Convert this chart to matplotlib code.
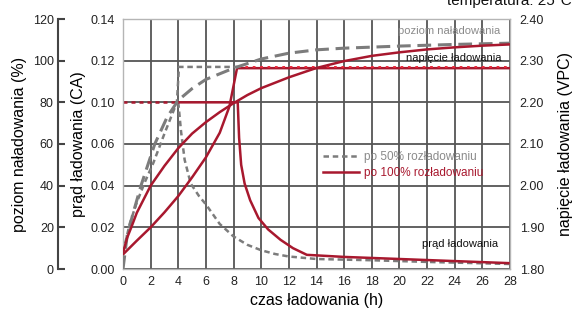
import numpy as np
import matplotlib
matplotlib.use("Agg")
import matplotlib.pyplot as plt

plt.rcParams['font.family'] = ['Liberation Sans', 'DejaVu Sans']

# ── data ────────────────────────────────────────────────────────────────
HOURS_TICKS = list(range(0, 29, 2))

# current axis is labelled with 0.08 missing (as in the original chart)
CURRENT_TICKS = [0.00, 0.02, 0.04, 0.06, 0.10, 0.12, 0.14]
VOLT_TICKS    = [1.80, 1.90, 2.00, 2.10, 2.20, 2.30, 2.40]
LEVEL_TICKS   = [0, 20, 40, 60, 80, 100, 120]

# po 100% rozładowaniu
cur100_h   = [4.0, 8.3, 8.4, 8.55, 8.8, 9.2, 9.8, 10.5, 11.4, 12.3, 13.3, 16, 20, 24, 28]
cur100_ca  = [0.10, 0.10, 0.066, 0.050, 0.041, 0.033, 0.0245, 0.019, 0.014, 0.010,
              0.0068, 0.0058, 0.0048, 0.0038, 0.0028]
volt100_h  = [0, 1, 2, 3, 4, 5, 6, 7, 7.7, 8.25, 28]
volt100_v  = [1.835, 1.868, 1.900, 1.936, 1.975, 2.020, 2.068, 2.127, 2.190, 2.282, 2.282]
level100_h = [0, 0.3, 0.6, 1, 2, 3, 4, 5, 6, 7, 8, 9, 10, 12, 14, 16, 18, 20, 22, 24, 26, 28]
level100_p = [7.6, 15, 20, 27.0, 40, 49.5, 58, 65, 70.5, 75.3, 79.6, 83.5, 86.8, 92, 96.5,
              99.8, 102.3, 104, 105.4, 106.4, 107.2, 107.8]

# po 50% rozładowaniu
cur50_h    = [0, 4.0, 4.2, 4.46, 4.9, 5.5, 6, 7, 8, 9, 10, 11, 12, 14, 18, 22, 28]
cur50_ca   = [0.10, 0.10, 0.072, 0.0524, 0.041, 0.035, 0.031, 0.0216, 0.0156, 0.0116,
              0.009, 0.0072, 0.006, 0.0048, 0.0042, 0.0034, 0.0024]
volt50_h   = [0, 0.5, 1, 1.6, 2.2, 3, 3.9, 4.05, 8.3, 28]
volt50_v   = [1.84, 1.91, 1.96, 2.01, 2.055, 2.125, 2.20, 2.285, 2.285, 2.285]
level50_h  = [0, 0.3, 0.7, 1.3, 2.3, 3.2, 4, 5, 6, 8, 10, 12, 14, 16, 20, 24, 28]
level50_p  = [0, 16, 26, 40, 60, 73, 81, 86.6, 91, 96.4, 100.8, 103.6, 105.2, 106,
              107, 107.8, 108.4]

RED    = "#a8182e"
BRIGHT = "#e8283a"
GRAY   = "#7c7c7c"
GRID   = "#555555"

DOTTED = (0, (2.2, 1.5))
DASHED = (0, (4.5, 2.2))

# non-linear current scale: tick labels are equally spaced
pos = np.arange(len(CURRENT_TICKS))
def fwd(v):
    return np.interp(v, CURRENT_TICKS, pos)
def inv(g):
    return np.interp(g, pos, CURRENT_TICKS)

fig = plt.figure(figsize=(5.8, 3.17), dpi=100)
ax = fig.add_axes([123/580, 48/317, 387/580, 250/317])
ax.set_yscale("function", functions=(fwd, inv))
ax.set_xlim(0, 28)
ax.set_ylim(0, 0.14)
ax.set_xticks(HOURS_TICKS)
ax.set_yticks(CURRENT_TICKS)
ax.set_yticklabels([f"{v:.2f}" for v in CURRENT_TICKS])
ax.grid(True, color=GRID, lw=1.3)
ax.tick_params(length=0, labelsize=9, colors="#222222")
ax.tick_params(axis="y", pad=6)
ax.tick_params(axis="x", pad=5)
for s in ax.spines.values():
    s.set_color("#b5b5b5")
    s.set_linewidth(1.0)
ax.set_xlabel("czas ładowania (h)", fontsize=11.5, labelpad=4)
ax.set_ylabel("prąd ładowania (CA)", fontsize=11.5, labelpad=3)

# voltage axis (right)
axv = ax.twinx()
axv.set_ylim(1.8, 2.4)
axv.set_yticks(VOLT_TICKS)
axv.set_yticklabels([f"{v:.2f}" for v in VOLT_TICKS])
axv.tick_params(length=0, labelsize=9, colors="#222222", pad=7)
for s in axv.spines.values():
    s.set_visible(False)
axv.set_ylabel("napięcie ładowania (VPC)", fontsize=11.5, labelpad=10)

# charge level axis (outer left)
axp = ax.twinx()
axp.set_ylim(0, 120)
axp.set_yticks(LEVEL_TICKS)
axp.yaxis.set_ticks_position("left")
axp.yaxis.set_label_position("left")
for name, s in axp.spines.items():
    s.set_visible(name == "left")
axp.spines["left"].set_position(("axes", (58 - 123) / 387))
axp.spines["left"].set_color("#444444")
axp.spines["left"].set_linewidth(1.5)
axp.tick_params(direction="in", length=5, width=1.5, color="#444444",
                labelsize=9, labelcolor="#222222", pad=3)
axp.set_ylabel("poziom naładowania (%)", fontsize=11.5, labelpad=4)

# ── curves ──────────────────────────────────────────────────────────────
c50h = np.array(cur50_h); c50 = np.array(cur50_ca)
flat = c50h <= 4.0
ax.plot(c50h[c50h >= 4.0], c50[c50h >= 4.0], color=GRAY, lw=1.8, ls=DOTTED)
ax.plot(c50h[flat], c50[flat], color=RED, lw=1.8, ls=(0, (1.6, 1.6)))
l100, = ax.plot(cur100_h, cur100_ca, color=RED, lw=1.8)

v50h = np.array(volt50_h); v50 = np.array(volt50_v)
axv.plot(volt100_h, volt100_v, color=RED, lw=1.8)
l50, = axv.plot(v50h[v50h <= 8.3], v50[v50h <= 8.3], color=GRAY, lw=1.8, ls=DOTTED)
axv.plot(v50h[v50h >= 8.3], v50[v50h >= 8.3], color=BRIGHT, lw=1.4, ls=(0, (1.4, 2.4)))

axp.plot(level50_h, level50_p, color=GRAY, lw=2.2, ls=DASHED)
axp.plot(level100_h, level100_p, color=RED, lw=1.8)

# ── labels on the chart ─────────────────────────────────────────────────
axp.text(23.6, 114, "poziom naładowania", fontsize=8, color="#8a8a8a",
         ha="center", va="center")
axp.text(23.9, 101.5, "napięcie ładowania", fontsize=8, color="#111111",
         ha="center", va="center")
axp.text(24.4, 12, "prąd ładowania", fontsize=8, color="#111111",
         ha="center", va="center")

leg = ax.legend([l50, l100], ["po 50% rozładowaniu", "po 100% rozładowaniu"],
                loc="upper left", bbox_to_anchor=(0.505, 0.49), frameon=False,
                fontsize=8.5, handlelength=3.0, handletextpad=0.5,
                labelspacing=0.35, borderaxespad=0)
leg.get_texts()[0].set_color("#8a8a8a")
leg.get_texts()[1].set_color(RED)
leg.set_zorder(10)

# title sits partly above the top edge, as in the reference
fig.text(0.985, 1 - 5/317, "temperatura: 25°C", fontsize=11, ha="right",
         va="baseline", color="#111111")

fig.savefig("out.png", dpi=100)
